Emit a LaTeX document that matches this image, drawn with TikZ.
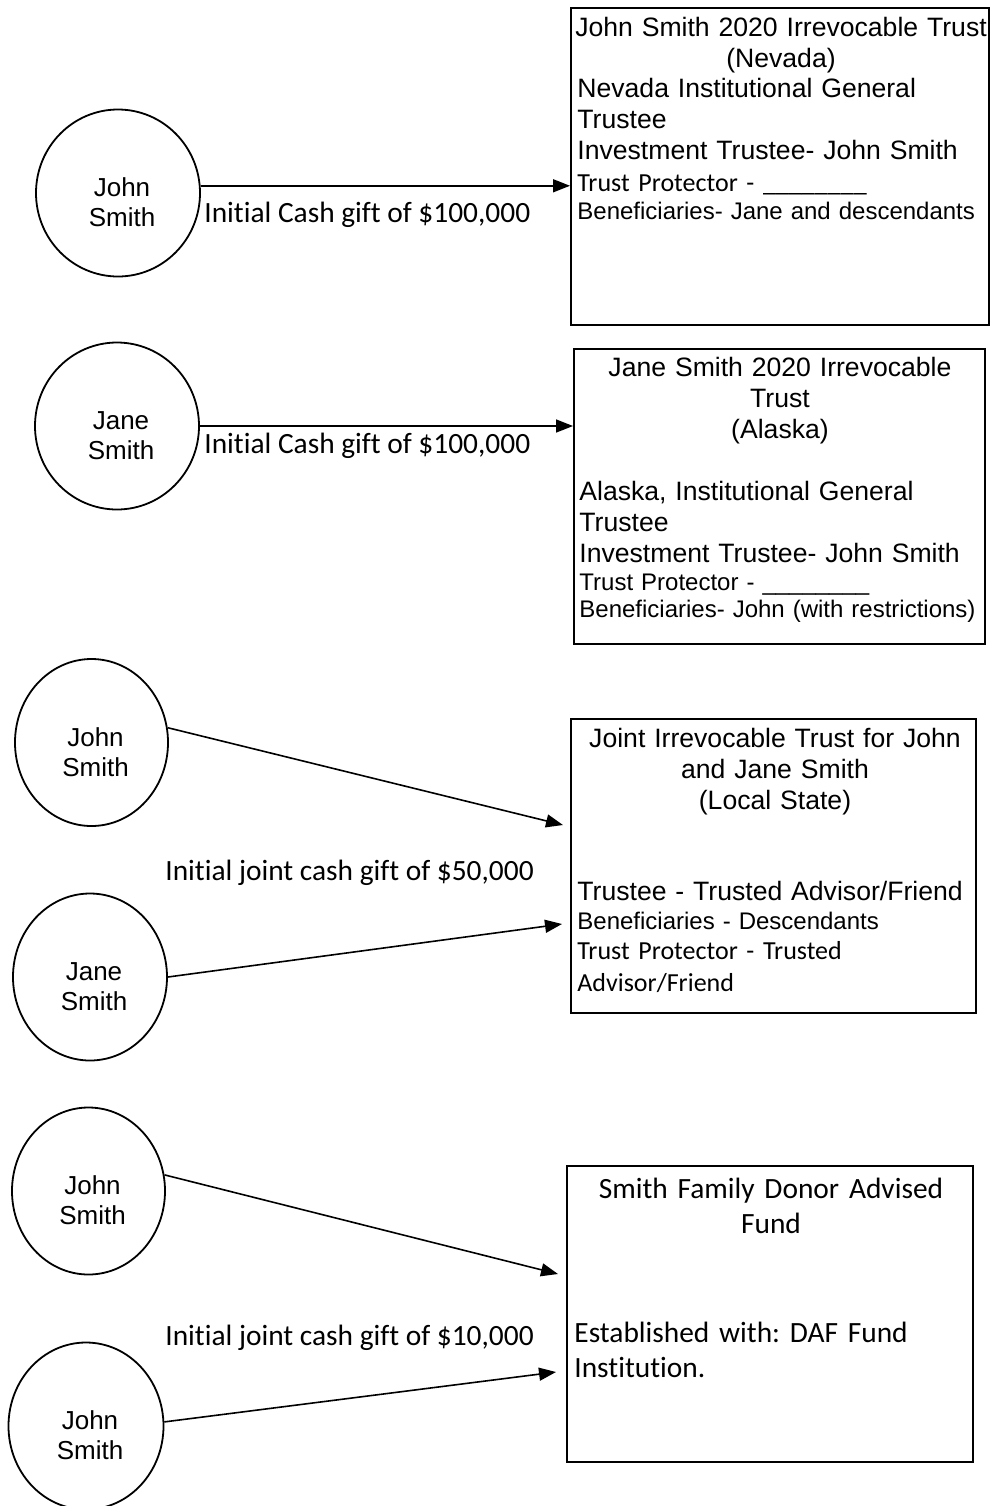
\documentclass[tikz,border=0pt]{standalone}
\usepackage{fontspec}
\usetikzlibrary{shapes.geometric,arrows.meta,calc}
\newfontfamily\arialf[Ligatures=NoCommon]{Liberation Sans}
\newfontfamily\calibf[Ligatures=NoCommon]{Carlito}
\frenchspacing

\begin{document}
\begin{tikzpicture}[x=0.5pt,y=-0.5pt,
  person/.style={draw, ellipse, line width=0.9pt, minimum width=#1, minimum height=83.5pt, inner sep=0pt},
  who/.style={font=\arialf\fontsize{13}{15}\selectfont, align=center, inner sep=0pt},
  trust/.style={draw, rectangle, line width=0.9pt, anchor=north west, inner sep=0pt},
  gift/.style={-{Triangle[length=8.5pt,width=6.5pt]}, line width=0.8pt},
  big/.style={font=\arialf\fontsize{13.3}{15.5}\selectfont, inner sep=0pt},
  small/.style={font=\arialf\fontsize{12}{13.5}\selectfont, inner sep=0pt},
  cal/.style={font=\calibf\fontsize{13}{16}\selectfont, inner sep=0pt},
  calbig/.style={font=\calibf\fontsize{14.7}{17.5}\selectfont, inner sep=0pt},
  heading/.style={text width=220pt, align=center, anchor=base},
  lefty/.style={text width=205pt, align=left, anchor=base west}
]
\useasboundingbox (0,0) rectangle (991,1506);

% the people giving
\foreach \p/\x/\y/\w/\nm in {p1/118/193/82pt/John, p2/117/426/82pt/Jane,
    p3/91.5/742.5/76.5pt/John, p4/90/977/77pt/Jane,
    p5/88.5/1191/76.5pt/John, p6/86/1426/77.5pt/John} {
  \node[person=\w] (\p) at (\x,\y) {};
  \node[who] (\p n) at (\x+4,\y+9.5) {\nm\\Smith};
}

% John Smith trust (Nevada)
\node[trust, minimum width=209pt, minimum height=158.5pt] (jst) at (570,7) {};
\node[big, heading] (jst1) at (781,36) {John Smith 2020 Irrevocable Trust\\(Nevada)};
\node[big, lefty] (jst2) at (577,97) {Nevada Institutional General\\Trustee\\Investment Trustee- John Smith};
\node[cal, lefty] (jst3) at (577,191) {Trust Protector - \_\_\_\_\_\_\_\_};
\node[small, lefty] (jst4) at (577,219) {Beneficiaries- Jane and descendants};

% Jane Smith trust (Alaska)
\node[trust, minimum width=205.5pt, minimum height=147.5pt] (jat) at (573,348) {};
\node[big, heading] (jat1) at (780,376) {Jane Smith 2020 Irrevocable\\Trust\\(Alaska)};
\node[big, lefty] (jat2) at (579,500) {Alaska, Institutional General\\Trustee\\Investment Trustee- John Smith};
\node[small, lefty] (jat3) at (579,590) {Trust Protector - \_\_\_\_\_\_\_\_\\Beneficiaries- John (with restrictions)};

% joint trust
\node[trust, minimum width=202.5pt, minimum height=147pt] (jjt) at (570,718) {};
\node[big, heading] (jjt1) at (775,747) {Joint Irrevocable Trust for John\\and Jane Smith\\(Local State)};
\node[big, lefty] (jjt2) at (577,900) {Trustee - Trusted Advisor/Friend};
\node[small, lefty] (jjt3) at (577,929) {Beneficiaries - Descendants};
\node[cal, lefty] (jjt4) at (577,959) {Trust Protector - Trusted\\Advisor/Friend};

% donor advised fund
\node[trust, minimum width=203pt, minimum height=148pt] (daf) at (566,1165) {};
\node[calbig, heading] (daf1) at (771,1198) {Smith Family Donor Advised\\Fund};
\node[calbig, lefty] (daf2) at (574,1342) {Established with: DAF Fund\\Institution.};

% gifts
\draw[gift] (p1.5) -- (p1.5 -| jst.west);
\node[calbig, anchor=base west] (g1) at (204,222) {Initial Cash gift of \$100,000};
\draw[gift] (p2.east) -- (p2.east -| jat.west);
\node[calbig, anchor=base west] (g2) at (204,453) {Initial Cash gift of \$100,000};

\coordinate (in3) at (563,825);
\coordinate (in4) at (562,924);
\draw[gift] (p3.11) -- (in3);
\draw[gift] (p4.east) -- (in4);
\node[calbig, anchor=base west] (g3) at (165,880) {Initial joint cash gift of \$50,000};

\coordinate (in5) at (558,1274);
\coordinate (in6) at (556,1372);
\draw[gift] (p5.12) -- (in5);
\draw[gift] (p6.3) -- (in6);
\node[calbig, anchor=base west] (g4) at (165,1345) {Initial joint cash gift of \$10,000};

\end{tikzpicture}
\end{document}
